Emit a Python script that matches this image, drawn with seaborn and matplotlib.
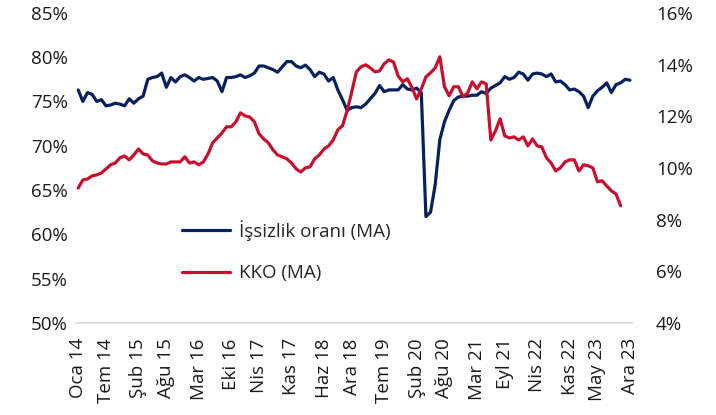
"""
plot.py

Capacity utilisation vs unemployment style chart: two monthly moving-average
series on twin axes, Jan 2014 - Dec 2023.
"""
import numpy as np
import pandas as pd
import seaborn as sns

from matplotlib import pyplot as plt
from matplotlib import ticker as tkr


# left axis series (Oca 14 .. Ara 23), percent
ISSIZLIK = [
    76.3, 75.0, 76.0, 75.8, 75.0, 75.2, 74.5, 74.6, 74.8, 74.7,
    74.5, 75.3, 74.8, 75.3, 75.6, 77.5, 77.7, 77.8, 78.2, 76.6,
    77.7, 77.2, 77.8, 78.0, 77.7, 77.3, 77.7, 77.5, 77.6, 77.7,
    77.3, 76.1, 77.7, 77.7, 77.8, 78.0, 77.7, 77.9, 78.2, 79.0,
    79.0, 78.8, 78.6, 78.3, 78.9, 79.5, 79.5, 79.0, 78.8, 79.1,
    78.6, 77.8, 78.3, 78.1, 77.3, 77.7, 76.3, 75.2, 74.0, 74.3,
    74.4, 74.3, 74.7, 75.3, 75.9, 76.8, 76.1, 76.3, 76.3, 76.3,
    76.9, 76.4, 76.3, 76.5, 76.0, 62.0, 62.5, 65.6, 70.7, 72.7,
    74.0, 75.1, 75.5, 75.6, 75.6, 75.7, 75.7, 76.1, 75.9, 76.5,
    76.8, 77.1, 77.8, 77.5, 77.7, 78.3, 78.1, 77.4, 78.1, 78.2,
    78.1, 77.8, 78.1, 77.2, 77.3, 76.9, 76.3, 76.4, 76.1, 75.6,
    74.3, 75.6, 76.2, 76.6, 77.1, 76.0, 76.9, 77.1, 77.5, 77.4,
]

# right axis series (Oca 14 .. Eki 23), percent
KKO = [
    9.22, 9.53, 9.57, 9.69, 9.73, 9.80, 9.96, 10.12, 10.19, 10.39,
    10.46, 10.31, 10.50, 10.73, 10.54, 10.50, 10.27, 10.19, 10.15, 10.15,
    10.23, 10.23, 10.23, 10.43, 10.19, 10.23, 10.12, 10.23, 10.54, 10.97,
    11.16, 11.35, 11.59, 11.59, 11.78, 12.13, 12.01, 11.97, 11.78, 11.32,
    11.12, 10.97, 10.70, 10.50, 10.43, 10.35, 10.19, 9.96, 9.84, 10.00,
    10.04, 10.35, 10.50, 10.73, 10.85, 11.08, 11.47, 11.63, 12.21, 12.94,
    13.72, 13.91, 13.99, 13.87, 13.72, 13.75, 14.03, 14.18, 14.10, 13.56,
    13.33, 13.45, 13.10, 12.67, 13.06, 13.52, 13.68, 13.87, 14.30, 13.14,
    12.79, 13.14, 13.14, 12.75, 12.90, 13.33, 13.06, 13.33, 13.25, 11.08,
    11.43, 11.90, 11.24, 11.16, 11.20, 11.08, 11.20, 10.85, 11.12, 10.85,
    10.81, 10.39, 10.19, 9.88, 10.00, 10.23, 10.31, 10.31, 9.88, 10.12,
    10.08, 10.00, 9.46, 9.50, 9.30, 9.11, 8.99, 8.53,
]

TICK_POS = [0, 6, 13, 19, 26, 33, 39, 46, 53, 59, 66, 73, 79, 86, 92, 99,
            106, 112, 119]
TICK_LABELS = ["Oca 14", "Tem 14", "Şub 15", "Ağu 15", "Mar 16", "Eki 16",
               "Nis 17", "Kas 17", "Haz 18", "Ara 18", "Tem 19", "Şub 20",
               "Ağu 20", "Mar 21", "Eyl 21", "Nis 22", "Kas 22", "May 23",
               "Ara 23"]

BLUE = "#06215F"
RED = "#C8102E"

sns.set_style("white")
plt.rcParams["font.family"] = ["Open Sans", "DejaVu Sans"]


def main():
    left = pd.DataFrame({"ay": np.arange(len(ISSIZLIK)), "deger": ISSIZLIK})
    right = pd.DataFrame({"ay": np.arange(len(KKO)), "deger": KKO})

    fig = plt.figure(figsize=(7.16, 4.15), dpi=100)
    ax = fig.add_axes([0.106, 0.222, 0.777, 0.747])
    ax2 = ax.twinx()

    sns.lineplot(data=left, x="ay", y="deger", ax=ax, color=BLUE, lw=2.3,
                 label="İşsizlik oranı (MA)", legend=False)
    sns.lineplot(data=right, x="ay", y="deger", ax=ax2, color=RED, lw=2.3,
                 label="KKO (MA)", legend=False)

    ax.set_xlim(-0.5, 119.5)
    ax.set_ylim(50, 85)
    ax2.set_ylim(4, 16)
    ax.yaxis.set_major_locator(tkr.MultipleLocator(5))
    ax2.yaxis.set_major_locator(tkr.MultipleLocator(2))
    ax.yaxis.set_major_formatter(tkr.FuncFormatter(lambda v, p: f"{v:.0f}%"))
    ax2.yaxis.set_major_formatter(tkr.FuncFormatter(lambda v, p: f"{v:.0f}%"))

    ax.set_xticks(TICK_POS)
    ax.set_xticklabels(TICK_LABELS, rotation=90)
    ax.set_xlabel("")
    ax.set_ylabel("")
    ax2.set_ylabel("")

    for a in (ax, ax2):
        for side in ("top", "left", "right", "bottom"):
            a.spines[side].set_visible(False)
        a.tick_params(length=0, labelsize=13.5, colors="#1a1a1a")
    ax.spines["bottom"].set_visible(True)
    ax.spines["bottom"].set_color("#D9D9D9")
    ax.spines["bottom"].set_linewidth(1.2)
    ax.tick_params(axis="x", pad=11)
    ax.tick_params(axis="y", pad=6)
    ax2.tick_params(axis="y", pad=17)

    handles = ax.get_lines()[:1] + ax2.get_lines()[:1]
    ax2.legend(handles, [h.get_label() for h in handles],
               loc="upper left", bbox_to_anchor=(0.19, 0.332),
               frameon=False, fontsize=13.5, handlelength=2.6,
               handletextpad=0.45, labelspacing=1.25, borderpad=0,
               borderaxespad=0)

    fig.savefig("out.png", dpi=100)


if __name__ == "__main__":
    main()
